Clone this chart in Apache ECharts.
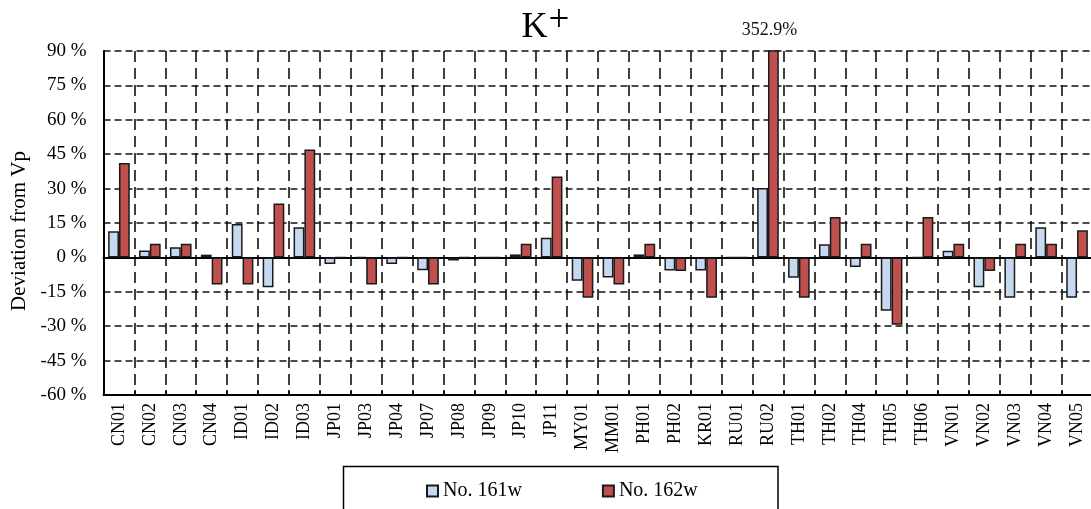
<!DOCTYPE html>
<html>
<head>
<meta charset="utf-8">
<script src="https://cdn.jsdelivr.net/npm/echarts@6/dist/echarts.min.js"></script>
<style>
  html, body { margin: 0; padding: 0; background: #ffffff; }
  #chart { width: 1091px; height: 509px; }
</style>
</head>
<body>
<div id="chart"></div>
<script>
// Sampling sites along the x axis
const sites = ['CN01', 'CN02', 'CN03', 'CN04', 'ID01', 'ID02', 'ID03', 'JP01', 'JP03', 'JP04',
  'JP07', 'JP08', 'JP09', 'JP10', 'JP11', 'MY01', 'MM01', 'PH01', 'PH02', 'KR01',
  'RU01', 'RU02', 'TH01', 'TH02', 'TH04', 'TH05', 'TH06', 'VN01', 'VN02', 'VN03', 'VN04', 'VN05'];

// Deviation from the prepared value (%), sample No. 161w
const no161w = [11.4, 3.0, 4.4, 1.2, 14.6, -13.0, 13.2, -2.9, 0, -2.9,
  -5.6, -1.4, 0, 1.3, 8.6, -10.2, -8.8, 1.3, -5.7, -5.7,
  0, 30.3, -8.9, 5.7, -4.2, -23.3, 0, 2.9, -13.0, -17.6, 13.2, -17.6];

// Deviation from the prepared value (%), sample No. 162w
const no162w = [41.2, 5.9, 5.9, -11.8, -11.8, 23.5, 47.1, 0, -11.8, 0,
  -11.8, 0, 0, 5.9, 35.3, -17.6, -11.8, 5.9, -5.9, -17.6,
  0, 352.9, -17.6, 17.6, 5.9, -29.4, 17.6, 5.9, -5.9, 5.9, 5.9, 11.8];

// Sites whose value runs off the top of the axis get a value label
const offScaleSites = ['RU02'];

// Value axis range and tick step (%)
const yMin = -60;
const yMax = 90;
const yStep = 15;

const serif = "'Liberation Serif', 'Times New Roman', serif";
const blue = '#C6D9F1';
const red = '#C0504D';
const edge = '#1a1a1a';

const redData = no162w.map((v, i) => offScaleSites.includes(sites[i]) ? {
  value: v,
  label: {
    show: true,
    position: 'top',
    distance: 11,
    offset: [-4, 0],
    formatter: '{c}%',
    fontFamily: serif,
    fontSize: 18,
    color: '#111'
  }
} : v);

const chart = echarts.init(document.getElementById('chart'), null, { renderer: 'canvas' });

chart.setOption({
  backgroundColor: '#ffffff',
  animation: false,
  title: {
    text: '{k|K}{s|+}',
    left: 'center',
    top: -2,
    textStyle: {
      fontWeight: 'normal',
      rich: {
        k: { fontFamily: serif, fontSize: 36, fontWeight: 'normal', color: '#000', verticalAlign: 'bottom' },
        s: { fontFamily: serif, fontSize: 37, fontWeight: 'normal', color: '#000', verticalAlign: 'top', padding: [0, 0, 6, 1] }
      }
    }
  },
  grid: {
    left: 103.5,
    top: 51,
    width: 989,
    height: 344,
    containLabel: false,
    outerBoundsMode: 'none'
  },
  legend: {
    data: ['No. 161w', 'No. 162w'],
    left: 421,
    top: 476,
    icon: 'rect',
    itemWidth: 11,
    itemHeight: 11,
    itemGap: 80,
    textStyle: { fontFamily: serif, fontSize: 20, color: '#000' }
  },
  graphic: [{
    type: 'rect',
    silent: true,
    shape: { x: 343.5, y: 466.5, width: 434.5, height: 80 },
    style: { fill: 'none', stroke: '#000', lineWidth: 1.5 }
  }],
  xAxis: [{
    type: 'category',
    data: sites,
    position: 'bottom',
    axisLine: { onZero: false, lineStyle: { color: '#000', width: 2 } },
    axisTick: { show: true, inside: true, length: 5, lineStyle: { color: '#000', width: 1.5 } },
    splitLine: { show: true, lineStyle: { color: '#111', width: 1.6, type: [11, 6] } },
    axisLabel: {
      rotate: 90,
      margin: 8,
      interval: 0,
      fontFamily: serif,
      fontSize: 18,
      color: '#000'
    }
  }, {
    // solid reference line through zero
    type: 'category',
    data: sites,
    position: 'bottom',
    axisLine: { onZero: true, lineStyle: { color: '#000', width: 2 } },
    axisTick: { show: false },
    axisLabel: { show: false },
    splitLine: { show: false }
  }],
  yAxis: {
    type: 'value',
    min: yMin,
    max: yMax,
    interval: yStep,
    name: 'Deviation from Vp',
    nameLocation: 'middle',
    nameGap: 72,
    nameTextStyle: { fontFamily: serif, fontSize: 21, color: '#000', padding: [0, 16, 0, 0] },
    axisLine: { show: true, lineStyle: { color: '#000', width: 2 } },
    axisTick: { show: false },
    splitLine: { show: true, lineStyle: { color: '#111', width: 1.6, type: [7, 4] } },
    axisLabel: {
      formatter: '{value} %',
      margin: 17,
      padding: [5, 0, 0, 0],
      fontFamily: serif,
      fontSize: 19,
      color: '#000'
    }
  },
  series: [{
    name: 'No. 161w',
    type: 'bar',
    xAxisIndex: 0,
    data: no161w,
    barGap: '0%',
    barCategoryGap: '30%',
    itemStyle: { color: blue, borderColor: edge, borderWidth: 1.5 }
  }, {
    name: 'No. 162w',
    type: 'bar',
    xAxisIndex: 0,
    data: redData,
    barGap: '0%',
    barCategoryGap: '30%',
    itemStyle: { color: red, borderColor: edge, borderWidth: 1.5 }
  }]
});
</script>
</body>
</html>
